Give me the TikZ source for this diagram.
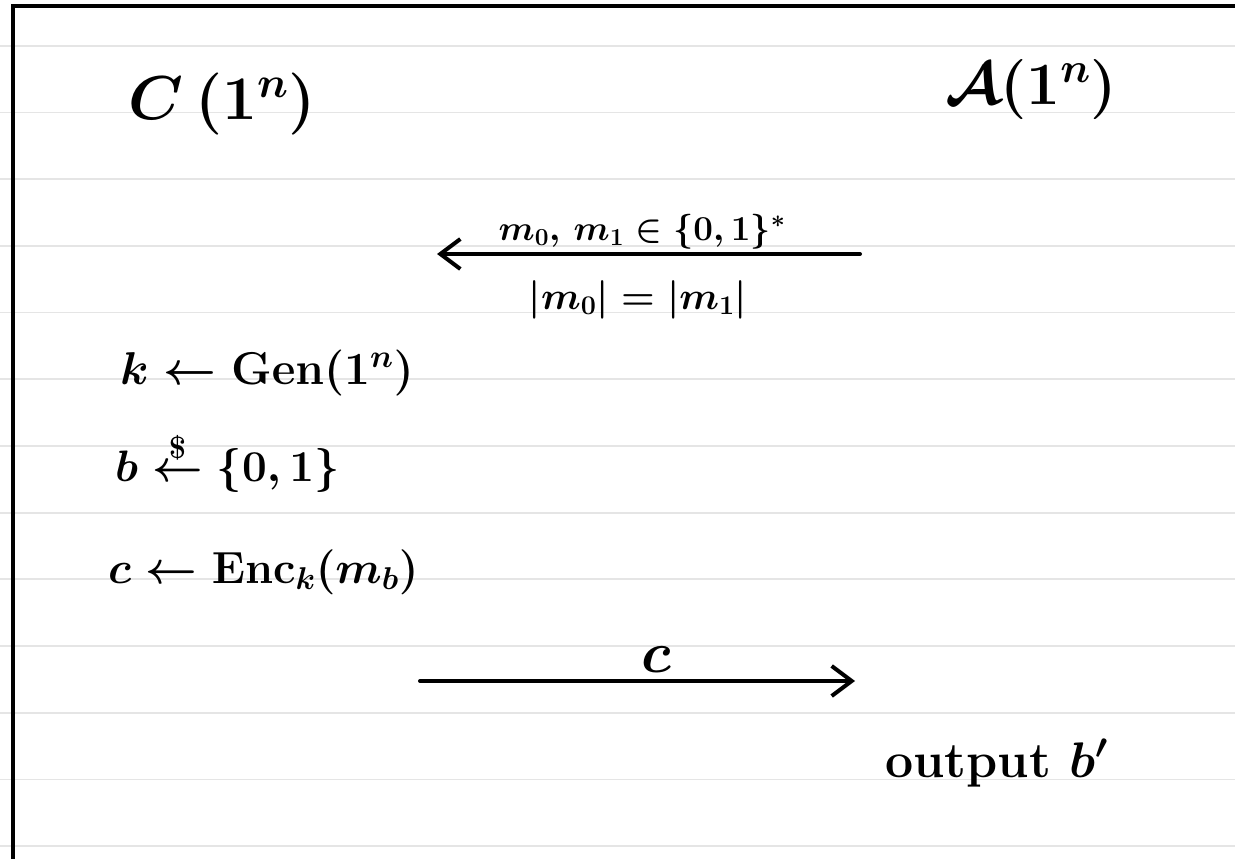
\documentclass[tikz,border=0pt]{standalone}
\usepackage{fix-cm}
\usetikzlibrary{arrows.meta}
\begin{document}
\begin{tikzpicture}[x=1pt,y=-1pt,
  rule/.style={line width=1.8pt, gray!20},
  border/.style={line width=4pt, black, line join=miter},
  msg/.style={line width=4pt, line cap=round, -{Straight Barb[length=20pt,width=30pt,line width=4pt]}},
  txt/.style={inner sep=0pt, font=\fontsize{#1}{#1}\selectfont\bfseries\boldmath}]
\useasboundingbox (0,0) rectangle (1235,859);
\fill[white] (0,0) rectangle (1235,859);
\foreach \k in {0,...,12} \draw[rule] (0,45.7+66.7*\k) -- (1235,45.7+66.7*\k);
\draw[border] (12.5,859) -- (12.5,6.5) -- (1235,6.5);
% parties
\node[txt=62, anchor=base west] (C) at (128,120) {$C\,(1^n)$};
\node[txt=60, anchor=base west] (A) at (945,104) {$\mathcal{A}(1^n)$};
% first message
\coordinate (m1s) at (860,254);
\coordinate (m1e) at (437,254);
\draw[msg] (m1s) -- (m1e);
\node[txt=35, anchor=base] (m1a) at (642,240) {$m_0,\, m_1 \in \{0,1\}^*$};
\node[txt=38.5, anchor=base] (m1b) at (638,309) {$|m_0| = |m_1|$};
% challenger steps
\node[txt=46, anchor=base west] (gen) at (120,384) {$k \leftarrow \mathrm{Gen}(1^n)$};
\node[txt=44, anchor=base west] (samp) at (115,481) {$b \stackrel{\raisebox{3pt}{$\scriptstyle\$$}}{\leftarrow} \{0,1\}$};
\node[txt=45, anchor=base west] (enc) at (108,583) {$c \leftarrow \mathrm{Enc}_k(m_b)$};
% second message
\coordinate (m2s) at (420,681);
\coordinate (m2e) at (855,681);
\draw[msg] (m2s) -- (m2e);
\node[txt=58, anchor=base] (m2a) at (656,672) {$c$};
% output
\node[txt=50, anchor=base west] (out) at (885,777) {output $b'$};
\end{tikzpicture}
\end{document}
